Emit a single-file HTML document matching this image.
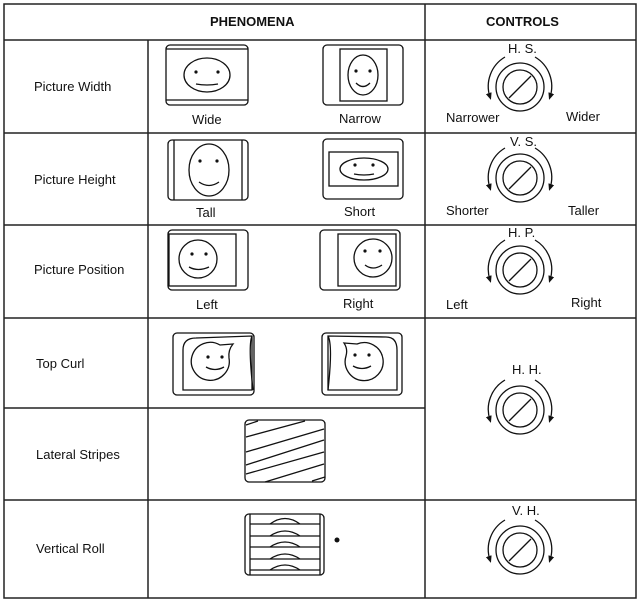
<!DOCTYPE html>
<html><head><style>
html,body{margin:0;padding:0;background:#fff;}
svg{display:block;}
text{font-family:"Liberation Sans",Arial,sans-serif;font-size:13px;fill:#111;}
</style></head><body>
<svg width="643" height="602" viewBox="0 0 643 602" xmlns="http://www.w3.org/2000/svg">
<defs>
<marker id="ah" markerWidth="8" markerHeight="8" refX="4" refY="4" orient="auto" markerUnits="userSpaceOnUse">
<path d="M0,1 L7,4 L0,7 z" fill="#111"/>
</marker>
<g id="knob" fill="none" stroke="#111" stroke-width="1.3">
<circle r="24"/><circle r="17"/><line x1="-11" y1="11" x2="11" y2="-11"/>
<path d="M-15,-30 A34,34 0 0 0 -30,10" marker-end="url(#ah)"/>
<path d="M15,-30 A34,34 0 0 1 30,10" marker-end="url(#ah)"/>
</g>
</defs>
<g fill="none" stroke="#222" stroke-width="1.5">
<rect x="4" y="4" width="632" height="594"/>
<line x1="4" y1="40" x2="636" y2="40"/>
<line x1="148" y1="40" x2="148" y2="598"/>
<line x1="425" y1="4" x2="425" y2="598"/>
<line x1="4" y1="133" x2="636" y2="133"/>
<line x1="4" y1="225" x2="636" y2="225"/>
<line x1="4" y1="318" x2="636" y2="318"/>
<line x1="4" y1="408" x2="425" y2="408"/>
<line x1="4" y1="500" x2="636" y2="500"/>
</g>
<text x="210" y="26" style="font-weight:bold" >PHENOMENA</text>
<text x="486" y="26" style="font-weight:bold">CONTROLS</text>
<text x="34" y="91">Picture Width</text>
<text x="34" y="184">Picture Height</text>
<text x="34" y="274">Picture Position</text>
<text x="36" y="368">Top Curl</text>
<text x="36" y="459">Lateral Stripes</text>
<text x="36" y="553">Vertical Roll</text>

<g fill="none" stroke="#111" stroke-width="1.3">
<!-- Wide -->
<rect x="166" y="45" width="82" height="60" rx="4"/>
<line x1="166" y1="49" x2="248" y2="49"/><line x1="166" y1="100" x2="248" y2="100"/>
<ellipse cx="207" cy="75" rx="23" ry="17"/>
<path d="M196,84 Q207,86 218,84"/>
<!-- Narrow -->
<rect x="323" y="45" width="80" height="60" rx="4"/>
<rect x="340" y="49" width="47" height="52"/>
<ellipse cx="363" cy="75" rx="15" ry="20"/>
<path d="M356,83 Q363,90 370,83"/>
<!-- Tall -->
<rect x="168" y="140" width="80" height="60" rx="4"/>
<line x1="174" y1="140" x2="174" y2="200"/><line x1="242" y1="140" x2="242" y2="200"/>
<ellipse cx="209" cy="170" rx="20" ry="26"/>
<path d="M199,182 Q209,189 219,182"/>
<!-- Short -->
<rect x="323" y="139" width="80" height="60" rx="4"/>
<rect x="329" y="152" width="69" height="34"/>
<ellipse cx="364" cy="169" rx="24" ry="11"/>
<path d="M354,174 Q364,176 374,174"/>
<!-- Left -->
<rect x="168" y="230" width="80" height="60" rx="4"/>
<rect x="169" y="234" width="67" height="52"/>
<circle cx="198" cy="259" r="19"/>
<path d="M189,267 Q198,272 209,267"/>
<!-- Right -->
<rect x="320" y="230" width="80" height="60" rx="4"/>
<rect x="338" y="234" width="58" height="52"/>
<circle cx="373" cy="258" r="19"/>
<path d="M365,265 Q373,271 382,265"/>
<!-- Top curl left -->
<rect x="173" y="333" width="81" height="62" rx="4"/>
<path d="M183,390 L183,350 Q183,338 196,338 L252,336 L252,390 Z"/>
<path d="M252,336 Q248,345 253,390"/>
<path d="M233,344 L220,345 A19,19 0 1 0 229,358 Q228,350 233,344 Z"/>
<!-- Top curl right -->
<rect x="322" y="333" width="80" height="62" rx="4"/>
<path d="M328,390 L328,336 L386,337 Q397,337 397,350 L397,390 Z"/>
<path d="M328,336 Q333,345 328,390"/>
<path d="M344,343 L357,344 A19,19 0 1 1 346,356 Q348,349 344,343 Z"/>
<!-- Lateral stripes -->
<rect x="245" y="420" width="80" height="62" rx="4"/>
<path d="M246,437 L305,421 M246,452 L324,429 M246,465 L324,440 M246,474 L324,452 M265,482 L324,464 M246,425 L258,421 M312,481 L325,477"/>
<!-- Vertical roll -->
<rect x="245" y="514" width="79" height="61" rx="4"/>
<line x1="250" y1="514" x2="250" y2="575"/><line x1="320" y1="514" x2="320" y2="575"/>
<path d="M250,524 L320,524 M250,536 L320,536 M250,547 L320,547 M250,559 L320,559 M250,570 L320,570"/>
<path d="M270,524 Q285,513 300,524 M270,536 Q285,526 300,536 M270,547 Q285,537 300,547 M270,559 Q285,549 300,559 M270,570 Q285,560 300,570"/>
</g>
<g fill="#111">
<circle cx="196" cy="72" r="1.6"/><circle cx="218" cy="72" r="1.6"/>
<circle cx="356" cy="71" r="1.6"/><circle cx="370" cy="71" r="1.6"/>
<circle cx="200" cy="161" r="1.6"/><circle cx="217" cy="161" r="1.6"/>
<circle cx="355" cy="165" r="1.6"/><circle cx="373" cy="165" r="1.6"/>
<circle cx="192" cy="254" r="1.6"/><circle cx="206" cy="254" r="1.6"/>
<circle cx="365" cy="251" r="1.6"/><circle cx="380" cy="251" r="1.6"/>
<circle cx="208" cy="357" r="1.6"/><circle cx="222" cy="357" r="1.6"/>
<circle cx="355" cy="355" r="1.6"/><circle cx="369" cy="355" r="1.6"/>
<circle cx="337" cy="540" r="2.5"/>
</g>
<g fill="none" stroke="#111" stroke-width="1.3">
<path d="M206,367 Q215,372 224,367"/>
<path d="M353,366 Q362,371 371,366"/>
</g>
<text x="192" y="124">Wide</text>
<text x="339" y="123">Narrow</text>
<text x="196" y="217">Tall</text>
<text x="344" y="216">Short</text>
<text x="196" y="309">Left</text>
<text x="343" y="308">Right</text>

<use href="#knob" x="520" y="87"/>
<use href="#knob" x="520" y="178"/>
<use href="#knob" x="520" y="270"/>
<use href="#knob" x="520" y="410"/>
<use href="#knob" x="520" y="550"/>
<text x="508" y="53">H. S.</text>
<text x="446" y="122">Narrower</text>
<text x="566" y="121">Wider</text>
<text x="510" y="146">V. S.</text>
<text x="446" y="215">Shorter</text>
<text x="568" y="215">Taller</text>
<text x="508" y="237">H. P.</text>
<text x="446" y="309">Left</text>
<text x="571" y="307">Right</text>
<text x="512" y="374">H. H.</text>
<text x="512" y="515">V. H.</text>
</svg>
</body></html>
